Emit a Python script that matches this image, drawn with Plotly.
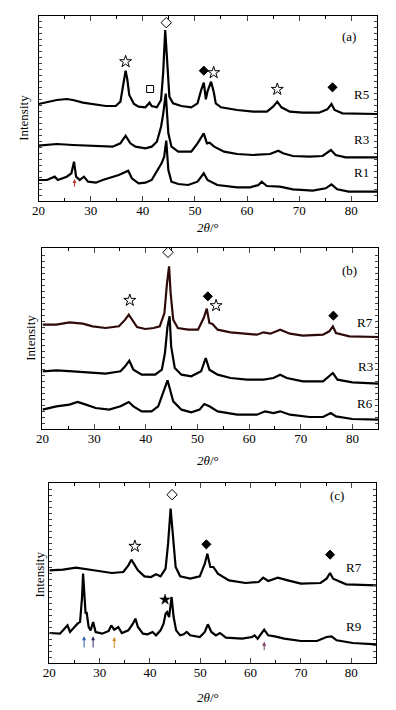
import plotly.graph_objects as go

# ---------------- Panel (a) data ----------------
a_R5_x = [20.0, 23.5, 25.4, 26.6, 28.5, 30.4, 32.9, 34.8, 35.7, 36.4, 36.7, 37.0, 37.4, 38.3, 39.2, 40.5, 41.3, 41.7,
          42.7, 43.5, 43.9, 44.3, 44.7, 45.1, 45.8, 47.4, 49.3, 50.5, 51.2, 51.7, 52.1, 52.4, 53.1, 53.6, 54.0, 55.0,
          58.1, 61.2, 63.8, 65.0, 65.8, 66.6, 68.2, 70.7, 73.8, 75.4, 76.2, 76.8, 78.3, 82.0, 85.0]
a_R5_y = [291, 303, 306, 303, 295, 291, 285, 285, 298, 363, 391, 368, 318, 291, 283, 281, 295, 285,
          281, 303, 383, 513, 393, 313, 293, 285, 281, 293, 333, 355, 305, 328, 358, 328, 293, 281,
          273, 268, 268, 283, 298, 281, 268, 265, 265, 275, 291, 273, 263, 263, 261]

a_R3_x = [20.0, 23.5, 26.6, 30.4, 34.2, 35.7, 36.7, 37.6, 38.6, 40.5, 41.7, 42.7, 43.5, 43.9, 44.4, 44.9, 45.5, 46.8,
          49.3, 50.5, 51.7, 52.3, 52.8, 53.7, 55.6, 58.1, 61.2, 64.4, 66.0, 66.9, 68.8, 72.0, 74.5, 76.1, 77.0, 78.9, 85.0]
a_R3_y = [166, 171, 168, 165, 163, 173, 196, 173, 163, 158, 163, 178, 223, 260, 322, 203, 163, 148,
          148, 173, 203, 173, 175, 163, 148, 141, 138, 141, 151, 143, 135, 133, 135, 153, 138, 131, 131]

a_R1_x = [20.0, 21.6, 23.1, 23.7, 25.4, 26.3, 26.8, 27.2, 27.9, 28.7, 29.5, 31.0, 32.3, 33.5, 35.4, 37.2, 37.9, 39.2,
          40.5, 41.7, 43.1, 43.6, 44.1, 44.5, 44.9, 45.5, 46.8, 48.7, 50.5, 51.7, 52.4, 54.3, 58.1, 60.6, 62.2, 62.8,
          63.8, 66.3, 68.8, 72.6, 75.1, 76.2, 77.3, 79.5, 85.0]
a_R1_y = [63, 63, 73, 63, 73, 83, 118, 73, 63, 73, 58, 55, 63, 68, 78, 91, 68, 53,
          55, 63, 103, 113, 133, 181, 93, 58, 51, 48, 58, 83, 63, 48, 41, 41, 48, 58,
          45, 43, 35, 31, 38, 50, 35, 28, 28]

# ---------------- Panel (b) data ----------------
b_R7_x = [20.0, 22.7, 25.2, 27.8, 29.7, 32.2, 34.8, 36.0, 36.7, 37.3, 38.3, 39.9, 41.5, 42.7, 43.6, 44.1, 44.5, 44.8,
          45.3, 46.2, 48.2, 50.1, 51.2, 51.8, 52.3, 52.9, 53.9, 56.4, 59.0, 61.5, 62.8, 64.1, 66.0, 67.9, 70.4, 74.3,
          75.5, 76.2, 76.8, 79.4, 85.0]
b_R7_y = [313, 313, 320, 316, 308, 303, 308, 328, 343, 328, 306, 300, 303, 308, 348, 438, 488, 408,
          328, 303, 298, 298, 333, 361, 318, 315, 298, 290, 286, 283, 290, 286, 298, 286, 280, 283,
          293, 308, 288, 278, 276]

b_R3_x = [20.0, 22.7, 25.9, 29.7, 32.2, 35.1, 36.0, 36.8, 37.6, 39.2, 41.8, 43.1, 43.7, 44.2, 44.6, 44.9, 45.6, 46.9,
          48.8, 50.7, 51.6, 52.3, 52.9, 53.9, 56.4, 59.6, 62.8, 64.7, 66.0, 67.3, 70.4, 74.3, 76.2, 77.1, 80.0, 85.0]
b_R3_y = [173, 176, 173, 168, 166, 173, 188, 205, 178, 163, 163, 178, 228, 308, 338, 248, 183, 163,
          158, 173, 213, 178, 173, 163, 153, 148, 148, 153, 163, 153, 143, 143, 168, 148, 140, 136]

b_R6_x = [20.0, 22.7, 25.2, 26.8, 28.4, 30.3, 32.9, 35.1, 36.7, 37.6, 39.2, 41.1, 42.4, 43.4, 44.2, 44.7, 45.3, 46.9,
          48.8, 50.4, 51.3, 52.3, 53.9, 57.7, 61.5, 63.1, 64.7, 66.0, 67.9, 71.7, 74.3, 75.8, 76.8, 80.0, 85.0]
b_R6_y = [58, 68, 73, 81, 73, 63, 58, 68, 81, 68, 53, 53, 68, 108, 146, 118, 83, 58,
          50, 58, 75, 68, 53, 43, 43, 53, 48, 53, 43, 36, 36, 48, 38, 30, 28]

# ---------------- Panel (c) data ----------------
c_R7_x = [20.0, 22.7, 25.3, 27.2, 29.8, 32.4, 34.7, 35.7, 36.3, 37.0, 37.6, 38.9, 40.2, 41.2, 42.1, 43.1, 43.6, 44.1,
          44.6, 45.1, 46.0, 48.0, 49.9, 50.9, 51.4, 52.0, 52.6, 53.5, 55.7, 59.0, 61.6, 62.5, 63.5, 65.4, 67.4, 70.0,
          73.9, 75.1, 75.8, 76.4, 79.0, 85.0]
c_R7_y = [278, 280, 286, 281, 276, 270, 273, 293, 310, 293, 278, 260, 258, 266, 260, 283, 358, 463,
          378, 288, 260, 253, 260, 298, 328, 288, 288, 268, 248, 240, 243, 256, 246, 256, 248, 238,
          240, 253, 270, 253, 236, 233]

c_R9_x = [20.0, 22.1, 23.0, 23.6, 24.1, 25.0, 25.6, 26.1, 26.5, 26.7, 27.0, 27.2, 27.4, 27.8, 28.2, 28.7, 29.2, 30.5,
          31.8, 32.3, 32.9, 33.7, 34.4, 35.7, 36.6, 37.1, 37.6, 38.6, 39.5, 40.5, 41.2, 42.1, 42.7, 43.1, 43.4, 43.8,
          44.3, 44.7, 45.2, 46.0, 46.7, 47.3, 48.0, 49.9, 50.9, 51.5, 52.2, 53.1, 53.9, 55.1, 58.3, 60.3, 60.8, 61.4,
          62.7, 63.5, 64.8, 66.7, 70.0, 73.2, 75.1, 76.1, 77.1, 80.3, 85.0]
c_R9_y = [90, 88, 103, 113, 93, 108, 118, 123, 198, 268, 198, 148, 153, 108, 98, 123, 93, 88,
          96, 113, 100, 108, 90, 98, 118, 133, 108, 88, 86, 93, 83, 98, 118, 148, 153, 138,
          198, 138, 98, 83, 86, 93, 83, 78, 93, 116, 93, 83, 90, 76, 73, 78, 83, 73,
          100, 83, 80, 73, 66, 66, 78, 80, 68, 60, 56]

# ---------------- Phase symbols (peak markers) ----------------
a_open_star_x = [36.7, 53.6, 65.8];  a_open_star_y = [418, 385, 335]
a_open_dia_x = [44.5];               a_open_dia_y = [535]
a_square_x = [41.4];                 a_square_y = [336]
a_fill_dia_x = [51.7, 76.4];         a_fill_dia_y = [391, 341]

b_open_star_x = [36.9, 53.6];        b_open_star_y = [386, 370]
b_open_dia_x = [44.3];               b_open_dia_y = [530]
b_fill_dia_x = [52.0, 76.3];         b_fill_dia_y = [398, 340]

c_open_star_x = [37.0];              c_open_star_y = [350]
c_open_dia_x = [44.4];               c_open_dia_y = [505]
c_fill_dia_x = [51.2, 75.8];         c_fill_dia_y = [356, 325]
c_fill_star_x = [43.0];              c_fill_star_y = [190]

# arrows: (position, head, tail, colour)
a_arrows = [(26.9, 66, 38, "#c0392b")]
c_arrows = [(26.9, 80, 42, "#2f5fb0"), (28.7, 80, 42, "#2a2f60"), (32.9, 78, 40, "#d08a2a"),
            (62.7, 64, 34, "#7a3f6a")]

# curve labels: (x, y, text)
a_labels = [(82.0, 320, "R5"), (82.0, 185, "R3"), (82.0, 85, "R1")]
b_labels = [(82.5, 320, "R7"), (82.5, 188, "R3"), (82.5, 78, "R6")]
c_labels = [(80.5, 288, "R7"), (80.5, 110, "R9")]
panel_tags = [(79.5, 493, "(a)"), (79.4, 476, "(b)"), (77.1, 503, "(c)")]

y_tops = [555, 543, 540]

# The page body has an 8px margin, so the figure is offset by 8px on screen.
OFF = 8
FW, FH = 396 - OFF, 710 - OFF
FONT = "Liberation Serif, Times New Roman, serif"


def px(sx):
    return (sx - OFF) / FW


def py(sy):
    return 1 - (sy - OFF) / FH


fig = go.Figure()

panels = [
    dict(ax="", xd=[px(32), px(377)], yd=[py(201), py(16)],
         traces=[(a_R5_x, a_R5_y, "black"), (a_R3_x, a_R3_y, "black"), (a_R1_x, a_R1_y, "black")]),
    dict(ax="2", xd=[px(36), px(378)], yd=[py(429), py(248)],
         traces=[(b_R7_x, b_R7_y, "#2e0a0a"), (b_R3_x, b_R3_y, "black"), (b_R6_x, b_R6_y, "black")]),
    dict(ax="3", xd=[px(43), px(376)], yd=[py(663), py(483)],
         traces=[(c_R7_x, c_R7_y, "black"), (c_R9_x, c_R9_y, "black")]),
]

for i, p in enumerate(panels):
    xa, ya = "x" + p["ax"], "y" + p["ax"]
    for (xs, ys, col) in p["traces"]:
        fig.add_trace(go.Scatter(x=xs, y=ys, mode="lines", xaxis=xa, yaxis=ya,
                                 line=dict(color=col, width=2.2), showlegend=False, hoverinfo="skip"))
    axis_common = dict(showline=True, linecolor="black", linewidth=1, mirror="ticks",
                       ticks="inside", showgrid=False, zeroline=False)
    fig.layout["xaxis" + p["ax"]] = dict(domain=p["xd"], range=[20, 85], dtick=10, tick0=20, ticklen=5,
                                         anchor=ya, tickfont=dict(family=FONT, size=13, color="black"),
                                         ticklabelstandoff=-3,
                                         minor=dict(dtick=5, ticks="inside", ticklen=3, tickcolor="black"),
                                         **axis_common)
    fig.layout["yaxis" + p["ax"]] = dict(domain=p["yd"], range=[0, y_tops[i]], dtick=18, ticklen=3,
                                         anchor=xa, showticklabels=False, **axis_common)


def add_markers(xs, ys, symbol, size, ax, fill="white", lw=1):
    fig.add_trace(go.Scatter(x=xs, y=ys, mode="markers", xaxis="x" + ax, yaxis="y" + ax,
                             marker=dict(symbol=symbol, size=size, color=fill,
                                         line=dict(color="black", width=lw)),
                             showlegend=False, hoverinfo="skip"))


add_markers(a_open_star_x, a_open_star_y, "star", 9, "")
add_markers(a_open_dia_x, a_open_dia_y, "diamond", 8, "")
add_markers(a_square_x, a_square_y, "square", 7, "")
add_markers(a_fill_dia_x, a_fill_dia_y, "diamond", 7, "", fill="black")

add_markers(b_open_star_x, b_open_star_y, "star", 9, "2")
add_markers(b_open_dia_x, b_open_dia_y, "diamond", 8, "2")
add_markers(b_fill_dia_x, b_fill_dia_y, "diamond", 7, "2", fill="black")

add_markers(c_open_star_x, c_open_star_y, "star", 9, "3")
add_markers(c_open_dia_x, c_open_dia_y, "diamond", 8, "3")
add_markers(c_fill_dia_x, c_fill_dia_y, "diamond", 7, "3", fill="black")
add_markers(c_fill_star_x, c_fill_star_y, "star", 8, "3", fill="black", lw=0.5)

annotations = []
for ax, arrows in (("", a_arrows), ("3", c_arrows)):
    for (xp, head, tail, col) in arrows:
        annotations.append(dict(x=xp, y=head, ax=xp, ay=tail, xref="x" + ax, yref="y" + ax,
                                axref="x" + ax, ayref="y" + ax, showarrow=True, arrowhead=2,
                                arrowsize=0.8, arrowwidth=1, arrowcolor=col, text=""))

for ax, labels in (("", a_labels), ("2", b_labels), ("3", c_labels)):
    for (xp, yp, t) in labels:
        annotations.append(dict(x=xp, y=yp, xref="x" + ax, yref="y" + ax, text=t, showarrow=False,
                                font=dict(family=FONT, size=13, color="black")))

for ax, (xp, yp, t) in zip(("", "2", "3"), panel_tags):
    annotations.append(dict(x=xp, y=yp, xref="x" + ax, yref="y" + ax, text=t, showarrow=False,
                            font=dict(family=FONT, size=13, color="black")))

# axis titles
for (xc, yc) in ((205, 227), (205, 460), (205, 697)):
    annotations.append(dict(x=px(xc), y=py(yc), xref="paper", yref="paper", showarrow=False,
                            xanchor="center", yanchor="middle",
                            text="<i>2θ</i>/°", font=dict(family=FONT, size=13, color="black")))
for (xc, yc) in ((17, 118), (23, 338), (32, 575)):
    annotations.append(dict(x=px(xc), y=py(yc), xref="paper", yref="paper", showarrow=False,
                            xanchor="center", yanchor="middle",
                            text="Intensity", textangle=-90,
                            font=dict(family=FONT, size=13, color="black")))

fig.update_layout(width=FW, height=FH, margin=dict(l=0, r=0, t=0, b=0),
                  paper_bgcolor="white", plot_bgcolor="white", annotations=annotations,
                  showlegend=False)

fig.write_html("out.html")
